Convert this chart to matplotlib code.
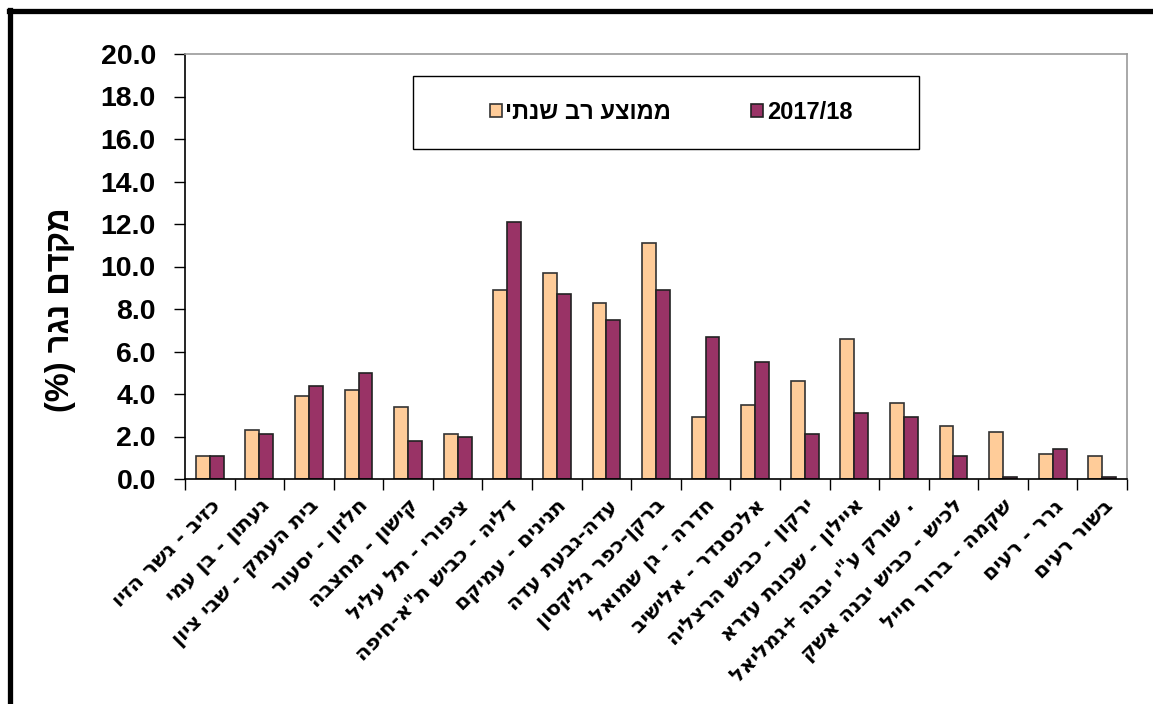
import matplotlib
matplotlib.use("Agg")
import matplotlib.pyplot as plt
from matplotlib.lines import Line2D
from matplotlib.patches import Rectangle
import numpy as np

plt.rcParams['font.family'] = ['Liberation Sans', 'DejaVu Sans']

# logical Hebrew category names
categories = [
    'כזיב - גשר הזיו',
    'געתון - בן עמי',
    'בית העמק - שבי ציון',
    'חלזון - יסעור',
    'קישון - מחצבה',
    'ציפורי - תל עליל',
    'דליה - כביש ת"א-חיפה',
    'תנינים - עמיקם',
    'עדה-גבעת עדה',
    'ברקן-כפר גליקסון',
    'חדרה - גן שמואל',
    'אלכסנדר - אלישיב',
    'ירקון - כביש הרצליה',
    'איילון - שכונת עזרא',
    '. שורק ע"י יבנה +גמליאל',
    'לכיש - כביש יבנה אשק',
    'שקמה - ברור חייל',
    'גרר - רעים',
    'בשור רעים',
]
multi_year = [1.1, 2.3, 3.9, 4.2, 3.4, 2.1, 8.9, 9.7, 8.3, 11.1,
              2.9, 3.5, 4.6, 6.6, 3.6, 2.5, 2.2, 1.2, 1.1]
y2017 = [1.1, 2.1, 4.4, 5.0, 1.8, 2.0, 12.1, 8.7, 7.5, 8.9,
         6.7, 5.5, 2.1, 3.1, 2.9, 1.1, 0.1, 1.4, 0.1]
legend_labels = ['ממוצע רב שנתי', '2017/18']
ylabel_text = 'מקדם נגר'
yticks = np.arange(0, 20.1, 2.0)


def vis(s):
    # matplotlib has no bidi: reverse for visual order
    return s[::-1]


fig = plt.figure(figsize=(11.53, 7.04), dpi=100)
ax = fig.add_axes([185 / 1153, 1 - 479 / 704, 942 / 1153, 425 / 704])

x = np.arange(len(categories))
w = 0.28
c_light = '#FFCC99'
c_dark = '#993366'
b1 = ax.bar(x - w / 2, multi_year, w, color=c_light, edgecolor='#333333', linewidth=1.2,
            label=vis(legend_labels[0]))
b2 = ax.bar(x + w / 2, y2017, w, color=c_dark, edgecolor='#222222', linewidth=1.2,
            label=legend_labels[1])

ax.set_xlim(-0.5, len(categories) - 0.5)
ax.set_ylim(0, 20)
ax.set_yticks(yticks)
ax.set_yticklabels([f'{v:.1f}' for v in yticks], fontsize=20.5, fontweight='bold')
ax.tick_params(axis='y', direction='out', length=8, width=1, pad=13)

ax.set_xticks(x)
ax.set_xticklabels([vis(c) for c in categories], rotation=45, ha='right',
                   rotation_mode='anchor', fontsize=15, fontweight='bold',
                   family=['DejaVu Sans'])
ax.tick_params(axis='x', which='major', length=0, pad=12)
ax.set_xticks(np.arange(-0.5, len(categories)), minor=True)
ax.tick_params(axis='x', which='minor', direction='out', length=8, width=1)

for s in ['left', 'bottom']:
    ax.spines[s].set_color('black')
    ax.spines[s].set_linewidth(1.2)
for s in ['top', 'right']:
    ax.spines[s].set_color('#999999')
    ax.spines[s].set_linewidth(1.2)

# legend frame
ax.add_patch(Rectangle((0.242, 0.776), 0.537, 0.172, transform=ax.transAxes,
                       facecolor='white', edgecolor='black', linewidth=1.0,
                       zorder=4, clip_on=False))
leg = ax.legend(handles=[b1, b2], loc='center', ncol=2,
                bbox_to_anchor=(0.516, 0.862),
                prop={'weight': 'bold', 'size': 17}, frameon=False,
                handlelength=0.5, handleheight=0.5, columnspacing=3.4,
                handletextpad=0.15, borderaxespad=0, borderpad=0)
leg.set_zorder(5)

# y label (visual order)
fig.text(60 / 1153, 1 - 310 / 704, '(%) ' + vis(ylabel_text), rotation=90,
         ha='center', va='center', fontsize=23.5, fontweight='bold')

# outer thick frame
fig.add_artist(Line2D([10 / 1153, 10 / 1153], [0, 1 - 10 / 704], transform=fig.transFigure,
                      color='black', linewidth=3.8))
fig.add_artist(Line2D([8.5 / 1153, 1], [1 - 11 / 704, 1 - 11 / 704], transform=fig.transFigure,
                      color='black', linewidth=3.8))

fig.savefig('out.png', dpi=100, facecolor='white')
